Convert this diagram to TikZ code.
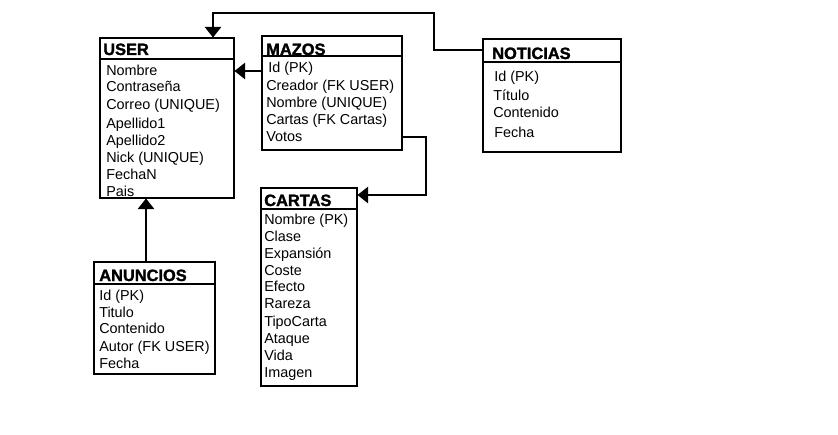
\documentclass[tikz,border=0pt]{standalone}
\usepackage{fontspec}
\setmainfont{Liberation Sans}
\newfontfamily\heavyfont[FakeBold=1.6]{Liberation Sans Bold}
\usetikzlibrary{arrows.meta,fit}
\begin{document}
\begin{tikzpicture}[x=0.75pt,y=-0.75pt,
  tbl/.style={draw, line width=0.8pt, rectangle, inner sep=0pt},
  hdr/.style={anchor=base west, inner sep=0pt, font=\fontsize{12.3}{13}\heavyfont},
  fld/.style={anchor=base west, inner sep=0pt, font=\fontsize{10.8}{12}\selectfont},
  sep/.style={line width=0.8pt},
  link/.style={line width=0.8pt, -{Triangle[length=8pt,width=12.5pt]}}]
\useasboundingbox[fill=white] (0,0) rectangle (838,435);

% tables
\node[tbl, fit={(100,38) (234,198)}] (user) {};
\node[tbl, fit={(262,36) (402,150)}] (mazos) {};
\node[tbl, fit={(483,39) (621,152)}] (noticias) {};
\node[tbl, fit={(261,188) (357,386)}] (cartas) {};
\node[tbl, fit={(94,262) (215,374)}] (anuncios) {};

% header separators
\draw[sep] (user.west |- 0,59) -- (user.east |- 0,59);
\draw[sep] (mazos.west |- 0,56) -- (mazos.east |- 0,56);
\draw[sep] (noticias.west |- 0,62) -- (noticias.east |- 0,62);
\draw[sep] (cartas.west |- 0,209) -- (cartas.east |- 0,209);
\draw[sep] (anuncios.west |- 0,284) -- (anuncios.east |- 0,284);

% USER
\node[hdr] (userh) at (103,55) {USER};
\node[fld] (u1) at (106,75) {Nombre};
\node[fld] (u2) at (106,92) {Contraseña};
\node[fld] (u3) at (106,109) {Correo (UNIQUE)};
\node[fld] (u4) at (106,128) {Apellido1};
\node[fld] (u5) at (106,145) {Apellido2};
\node[fld] (u6) at (106,162) {Nick (UNIQUE)};
\node[fld] (u7) at (106,179) {FechaN};
\node[fld] (u8) at (106,196) {Pais};

% MAZOS
\node[hdr] (mazosh) at (266,55) {MAZOS};
\node[fld] (m1) at (268,73) {Id (PK)};
\node[fld] (m2) at (266,90) {Creador (FK USER)};
\node[fld] (m3) at (266,107) {Nombre (UNIQUE)};
\node[fld] (m4) at (266,124) {Cartas (FK Cartas)};
\node[fld] (m5) at (266,141) {Votos};

% NOTICIAS
\node[hdr] (noticiash) at (492,59) {NOTICIAS};
\node[fld] (n1) at (494,82) {Id (PK)};
\node[fld] (n2) at (493,100) {Título};
\node[fld] (n3) at (493,117) {Contenido};
\node[fld] (n4) at (494,137) {Fecha};

% CARTAS
\node[hdr] (cartash) at (264,206) {CARTAS};
\node[fld] (c1) at (264,224) {Nombre (PK)};
\node[fld] (c2) at (264,241) {Clase};
\node[fld] (c3) at (264,258) {Expansión};
\node[fld] (c4) at (264,275) {Coste};
\node[fld] (c5) at (264,291) {Efecto};
\node[fld] (c6) at (264,308) {Rareza};
\node[fld] (c7) at (264,326) {TipoCarta};
\node[fld] (c8) at (264,343) {Ataque};
\node[fld] (c9) at (264,360) {Vida};
\node[fld] (c10) at (264,377) {Imagen};

% ANUNCIOS
\node[hdr] (anunciosh) at (99,281) {ANUNCIOS};
\node[fld] (a1) at (99,300) {Id (PK)};
\node[fld] (a2) at (99,317) {Titulo};
\node[fld] (a3) at (99,333) {Contenido};
\node[fld] (a4) at (99,351) {Autor (FK USER)};
\node[fld] (a5) at (99,368) {Fecha};

% connectors
\draw[link] (noticias.west |- 0,50) -- (434,50) -- (434,13) -- (213,13) -- (user.north -| 213,0);
\draw[link] (mazos.west |- 0,71) -- (user.east |- 0,71);
\draw[link] (mazos.east |- 0,137) -- (426,137) -- (426,195) -- (cartas.east |- 0,195);
\draw[link] (anuncios.north -| 146,0) -- (user.south -| 146,0);
\end{tikzpicture}
\end{document}
